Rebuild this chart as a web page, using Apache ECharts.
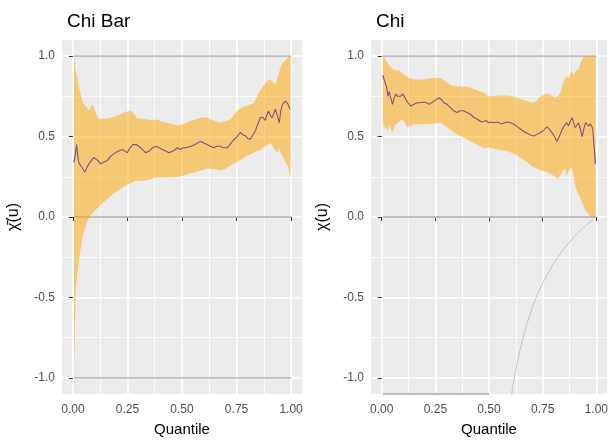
<!DOCTYPE html>
<html>
<head>
<meta charset="utf-8">
<script src="https://cdn.jsdelivr.net/npm/echarts@6/dist/echarts.min.js"></script>
<style>
  html, body { margin: 0; padding: 0; background: #ffffff; }
  #chart { width: 611px; height: 442px; }
</style>
</head>
<body>
<div id="chart"></div>
<script>
// ---------- tick labels ----------
const xTickVals = [0, 0.25, 0.5, 0.75, 1];
const xTickLabels = ['0.00', '0.25', '0.50', '0.75', '1.00'];
const xMinorVals = [0.125, 0.375, 0.625, 0.875];
const yTickVals = [-1, -0.5, 0, 0.5, 1];
const yTickLabels = ['-1.0', '-0.5', '0.0', '0.5', '1.0'];
const yMinorVals = [-0.75, -0.25, 0.25, 0.75];

// ---------- Chi Bar panel ----------
const chiBarLineU = [0.005,0.012,0.017,0.022,0.027,0.035,0.045,0.055,0.065,0.073,0.085,0.095,0.104,0.115,0.127,0.14,0.157,0.175,0.196,0.21,0.226,0.249,0.262,0.275,0.29,0.302,0.318,0.333,0.35,0.365,0.38,0.395,0.41,0.425,0.44,0.46,0.479,0.492,0.505,0.52,0.54,0.56,0.584,0.6,0.615,0.63,0.645,0.66,0.676,0.69,0.706,0.72,0.737,0.752,0.767,0.78,0.79,0.8,0.813,0.825,0.836,0.848,0.859,0.87,0.882,0.89,0.897,0.905,0.913,0.92,0.928,0.937,0.946,0.953,0.96,0.967,0.975,0.986,0.995];
const chiBarLine = [0.34,0.40,0.45,0.38,0.34,0.32,0.30,0.28,0.31,0.33,0.35,0.37,0.38,0.35,0.33,0.34,0.35,0.38,0.40,0.41,0.42,0.40,0.43,0.45,0.45,0.44,0.42,0.40,0.41,0.43,0.44,0.43,0.42,0.41,0.40,0.41,0.43,0.42,0.43,0.43,0.44,0.45,0.47,0.46,0.45,0.44,0.43,0.44,0.44,0.43,0.43,0.45,0.48,0.50,0.525,0.51,0.505,0.49,0.483,0.51,0.535,0.58,0.617,0.62,0.60,0.64,0.658,0.63,0.617,0.64,0.67,0.63,0.586,0.66,0.70,0.71,0.72,0.70,0.67];
const chiBarBandU = [0.005,0.009,0.013,0.02,0.028,0.035,0.042,0.05,0.058,0.065,0.073,0.08,0.088,0.096,0.104,0.112,0.119,0.135,0.157,0.18,0.203,0.22,0.234,0.25,0.264,0.28,0.295,0.32,0.341,0.365,0.387,0.41,0.433,0.46,0.486,0.51,0.538,0.56,0.584,0.61,0.63,0.655,0.676,0.70,0.722,0.735,0.752,0.775,0.798,0.815,0.829,0.845,0.859,0.87,0.882,0.895,0.905,0.915,0.928,0.936,0.944,0.952,0.96,0.968,0.975,0.985,0.992,0.998];
const chiBarUpper = [1.0,0.95,0.90,0.87,0.80,0.77,0.73,0.70,0.69,0.68,0.66,0.68,0.70,0.68,0.65,0.62,0.607,0.61,0.61,0.62,0.627,0.64,0.65,0.655,0.664,0.64,0.61,0.61,0.607,0.60,0.607,0.59,0.586,0.576,0.57,0.58,0.597,0.605,0.617,0.62,0.607,0.595,0.586,0.595,0.607,0.63,0.658,0.68,0.69,0.70,0.71,0.75,0.79,0.81,0.833,0.85,0.854,0.84,0.82,0.86,0.895,0.93,0.957,0.965,0.977,0.99,1.0,1.0];
const chiBarLower = [-1.0,-0.72,-0.45,-0.36,-0.26,-0.20,-0.14,-0.09,-0.06,-0.03,-0.01,0.01,0.02,0.035,0.045,0.055,0.065,0.085,0.11,0.14,0.16,0.175,0.19,0.20,0.21,0.22,0.225,0.225,0.23,0.24,0.247,0.245,0.245,0.247,0.25,0.26,0.27,0.28,0.288,0.30,0.30,0.295,0.29,0.30,0.32,0.33,0.34,0.36,0.38,0.39,0.40,0.41,0.415,0.43,0.44,0.45,0.46,0.44,0.415,0.40,0.43,0.40,0.38,0.36,0.34,0.32,0.28,0.24];
const chiBarRefLevels = [1, 0, -1];
const refSpanU = [0.005, 1.0];

// ---------- Chi panel ----------
const chiLineU = [0.005,0.012,0.022,0.029,0.035,0.042,0.05,0.058,0.066,0.073,0.08,0.088,0.097,0.105,0.112,0.122,0.135,0.15,0.166,0.18,0.197,0.21,0.22,0.232,0.243,0.255,0.266,0.278,0.289,0.305,0.32,0.335,0.35,0.366,0.381,0.397,0.412,0.428,0.442,0.455,0.465,0.477,0.488,0.495,0.51,0.525,0.54,0.556,0.571,0.587,0.602,0.617,0.633,0.648,0.663,0.678,0.694,0.709,0.725,0.74,0.755,0.77,0.782,0.793,0.805,0.816,0.828,0.839,0.85,0.862,0.87,0.878,0.886,0.894,0.901,0.909,0.916,0.925,0.934,0.942,0.95,0.958,0.965,0.972,0.977,0.983,0.988,0.992,0.995];
const chiLine = [0.88,0.85,0.81,0.75,0.78,0.74,0.70,0.74,0.765,0.75,0.74,0.75,0.765,0.75,0.73,0.71,0.69,0.70,0.71,0.71,0.715,0.71,0.70,0.71,0.72,0.73,0.74,0.73,0.71,0.70,0.68,0.66,0.65,0.66,0.66,0.65,0.64,0.62,0.61,0.60,0.59,0.595,0.60,0.586,0.59,0.586,0.59,0.58,0.585,0.59,0.585,0.575,0.56,0.545,0.53,0.52,0.51,0.504,0.515,0.525,0.54,0.56,0.545,0.525,0.50,0.47,0.50,0.54,0.565,0.586,0.565,0.59,0.617,0.59,0.555,0.57,0.586,0.55,0.50,0.55,0.586,0.575,0.565,0.58,0.59,0.55,0.47,0.40,0.33];
const chiBandU = [0.005,0.01,0.015,0.022,0.029,0.035,0.042,0.05,0.057,0.066,0.08,0.097,0.105,0.12,0.128,0.15,0.175,0.197,0.22,0.243,0.274,0.297,0.32,0.35,0.366,0.397,0.412,0.442,0.458,0.48,0.497,0.52,0.541,0.565,0.587,0.61,0.633,0.655,0.678,0.695,0.709,0.725,0.74,0.755,0.77,0.79,0.808,0.824,0.831,0.842,0.854,0.862,0.87,0.878,0.885,0.893,0.9,0.908,0.916,0.925,0.931,0.939,0.946,0.954,0.962,0.97,0.98,0.99,0.997];
const chiUpper = [1.0,1.0,0.98,0.97,0.95,0.946,0.93,0.92,0.915,0.91,0.915,0.89,0.885,0.87,0.864,0.854,0.854,0.854,0.86,0.864,0.864,0.843,0.82,0.812,0.81,0.81,0.805,0.79,0.78,0.77,0.75,0.752,0.755,0.755,0.755,0.75,0.74,0.73,0.72,0.715,0.71,0.725,0.75,0.76,0.77,0.755,0.74,0.755,0.77,0.82,0.864,0.87,0.864,0.89,0.905,0.885,0.895,0.91,0.915,0.95,0.97,0.99,1.0,1.0,1.0,1.0,1.0,1.0,1.0];
const chiLower = [0.535,0.60,0.54,0.56,0.53,0.576,0.55,0.525,0.55,0.576,0.59,0.607,0.59,0.556,0.565,0.576,0.576,0.576,0.578,0.58,0.586,0.565,0.54,0.514,0.505,0.483,0.47,0.452,0.44,0.428,0.432,0.425,0.42,0.415,0.41,0.395,0.38,0.36,0.34,0.32,0.31,0.30,0.29,0.285,0.28,0.265,0.25,0.236,0.26,0.28,0.30,0.26,0.28,0.30,0.31,0.26,0.206,0.17,0.144,0.12,0.10,0.075,0.05,0.035,0.02,0.01,0.0,0.0,0.0];
const chiRefLevels = [1, 0];
const chiFloorU = [0.005, 0.5];
const chiFloorVal = -1.1;
const chiBoundU = [0.60,0.61,0.62,0.635,0.65,0.675,0.70,0.725,0.75,0.80,0.85,0.90,0.95,0.99];
const chiBound = [-1.15,-1.06,-0.985,-0.88,-0.795,-0.67,-0.57,-0.48,-0.41,-0.29,-0.195,-0.118,-0.054,-0.01];

// ---------- helpers ----------
const FONT = '"Liberation Sans", Arial, sans-serif';
function labelFor(vals, labels) {
  return v => { const i = vals.findIndex(t => Math.abs(t - v) < 1e-9); return i >= 0 ? labels[i] : ''; };
}
function majorX(grid) {
  return {
    gridIndex: grid, type: 'value', min: -0.05, max: 1.05,
    axisLine: { show: false },
    axisTick: { show: true, customValues: xTickVals, length: 4, lineStyle: { color: '#333333', width: 1 } },
    axisLabel: { customValues: xTickVals, formatter: labelFor(xTickVals, xTickLabels), color: '#4D4D4D', fontSize: 12, margin: 10, fontFamily: FONT },
    splitLine: { show: true, lineStyle: { color: '#ffffff', width: 1.6 } },
    name: 'Quantile', nameLocation: 'middle', nameGap: 28,
    nameTextStyle: { color: '#000000', fontSize: 15, fontFamily: FONT }
  };
}
function minorX(grid) {
  return {
    gridIndex: grid, type: 'value', min: -0.05, max: 1.05, position: 'top',
    axisLine: { show: false },
    axisTick: { show: false, customValues: xMinorVals },
    axisLabel: { show: false, customValues: xMinorVals },
    splitLine: { show: true, lineStyle: { color: '#ffffff', width: 0.8 } }
  };
}
function majorY(grid, title) {
  return {
    gridIndex: grid, type: 'value', min: -1.1, max: 1.1,
    axisLine: { show: false },
    axisTick: { show: true, customValues: yTickVals, length: 4, lineStyle: { color: '#333333', width: 1 } },
    axisLabel: { customValues: yTickVals, formatter: labelFor(yTickVals, yTickLabels), color: '#4D4D4D', fontSize: 12, margin: 7, fontFamily: FONT },
    splitLine: { show: true, lineStyle: { color: '#ffffff', width: 1.6 } },
    name: title, nameLocation: 'middle', nameGap: 40, nameRotate: 90,
    nameTextStyle: { color: '#000000', fontSize: 16, fontFamily: FONT }
  };
}
function minorY(grid) {
  return {
    gridIndex: grid, type: 'value', min: -1.1, max: 1.1, position: 'right',
    axisLine: { show: false },
    axisTick: { show: false, customValues: yMinorVals },
    axisLabel: { show: false, customValues: yMinorVals },
    splitLine: { show: true, lineStyle: { color: '#ffffff', width: 0.8 } }
  };
}
function grayLine(axis, us, ys, width) {
  return {
    type: 'line', xAxisIndex: axis, yAxisIndex: axis, z: 1, silent: true,
    symbol: 'none', showSymbol: false, animation: false,
    lineStyle: { color: '#BEBEBE', width: width },
    data: us.map((u, i) => [u, ys[i]])
  };
}
function blueLine(axis, us, ys) {
  return {
    type: 'line', xAxisIndex: axis, yAxisIndex: axis, z: 2, silent: true,
    symbol: 'none', showSymbol: false, animation: false,
    lineStyle: { color: '#0000FF', width: 1.1 },
    data: us.map((u, i) => [u, ys[i]])
  };
}
function ribbon(axis, us, lo, hi) {
  return {
    type: 'custom', xAxisIndex: axis, yAxisIndex: axis, z: 3, silent: true, animation: false,
    data: us.map((u, i) => [u, lo[i], hi[i]]),
    encode: { x: 0, y: [1, 2] },
    renderItem: function (params, api) {
      if (params.dataIndex !== 0) return null;
      const top = us.map((u, i) => api.coord([u, hi[i]]));
      const bot = us.map((u, i) => api.coord([u, lo[i]])).reverse();
      return { type: 'polygon', shape: { points: top.concat(bot) }, style: { fill: 'rgba(255,165,0,0.5)' } };
    }
  };
}

// axis indices: 0 = left major, 1 = left minor, 2 = right major, 3 = right minor
const series = [];
chiBarRefLevels.forEach(l => series.push(grayLine(0, refSpanU, refSpanU.map(() => l), 1.8)));
series.push(blueLine(0, chiBarLineU, chiBarLine));
series.push(ribbon(0, chiBarBandU, chiBarLower, chiBarUpper));

chiRefLevels.forEach(l => series.push(grayLine(2, refSpanU, refSpanU.map(() => l), 1.8)));
series.push(grayLine(2, chiFloorU, chiFloorU.map(() => chiFloorVal), 1.8));
series.push(grayLine(2, chiBoundU, chiBound, 0.9));
series.push(blueLine(2, chiLineU, chiLine));
series.push(ribbon(2, chiBandU, chiLower, chiUpper));

const option = {
  animation: false,
  backgroundColor: '#ffffff',
  textStyle: { fontFamily: FONT },
  title: [
    { text: 'Chi Bar', left: 62, top: 7, textStyle: { fontSize: 19, fontWeight: 'normal', color: '#000000', fontFamily: FONT } },
    { text: 'Chi', left: 371, top: 7, textStyle: { fontSize: 19, fontWeight: 'normal', color: '#000000', fontFamily: FONT } }
  ],
  grid: [
    { left: 62, right: 309, top: 40, bottom: 46, show: true, backgroundColor: '#EBEBEB', borderWidth: 0 },
    { left: 371, right: 0, top: 40, bottom: 46, show: true, backgroundColor: '#EBEBEB', borderWidth: 0 }
  ],
  xAxis: [majorX(0), minorX(0), majorX(1), minorX(1)],
  yAxis: [majorY(0, 'χ\u0304(u)'), minorY(0), majorY(1, 'χ(u)'), minorY(1)],
  series: series
};
option.xAxis[2].gridIndex = 1; option.xAxis[3].gridIndex = 1;
option.yAxis[2].gridIndex = 1; option.yAxis[3].gridIndex = 1;

const chart = echarts.init(document.getElementById('chart'), null, { renderer: 'canvas' });
chart.setOption(option);
</script>
</body>
</html>
